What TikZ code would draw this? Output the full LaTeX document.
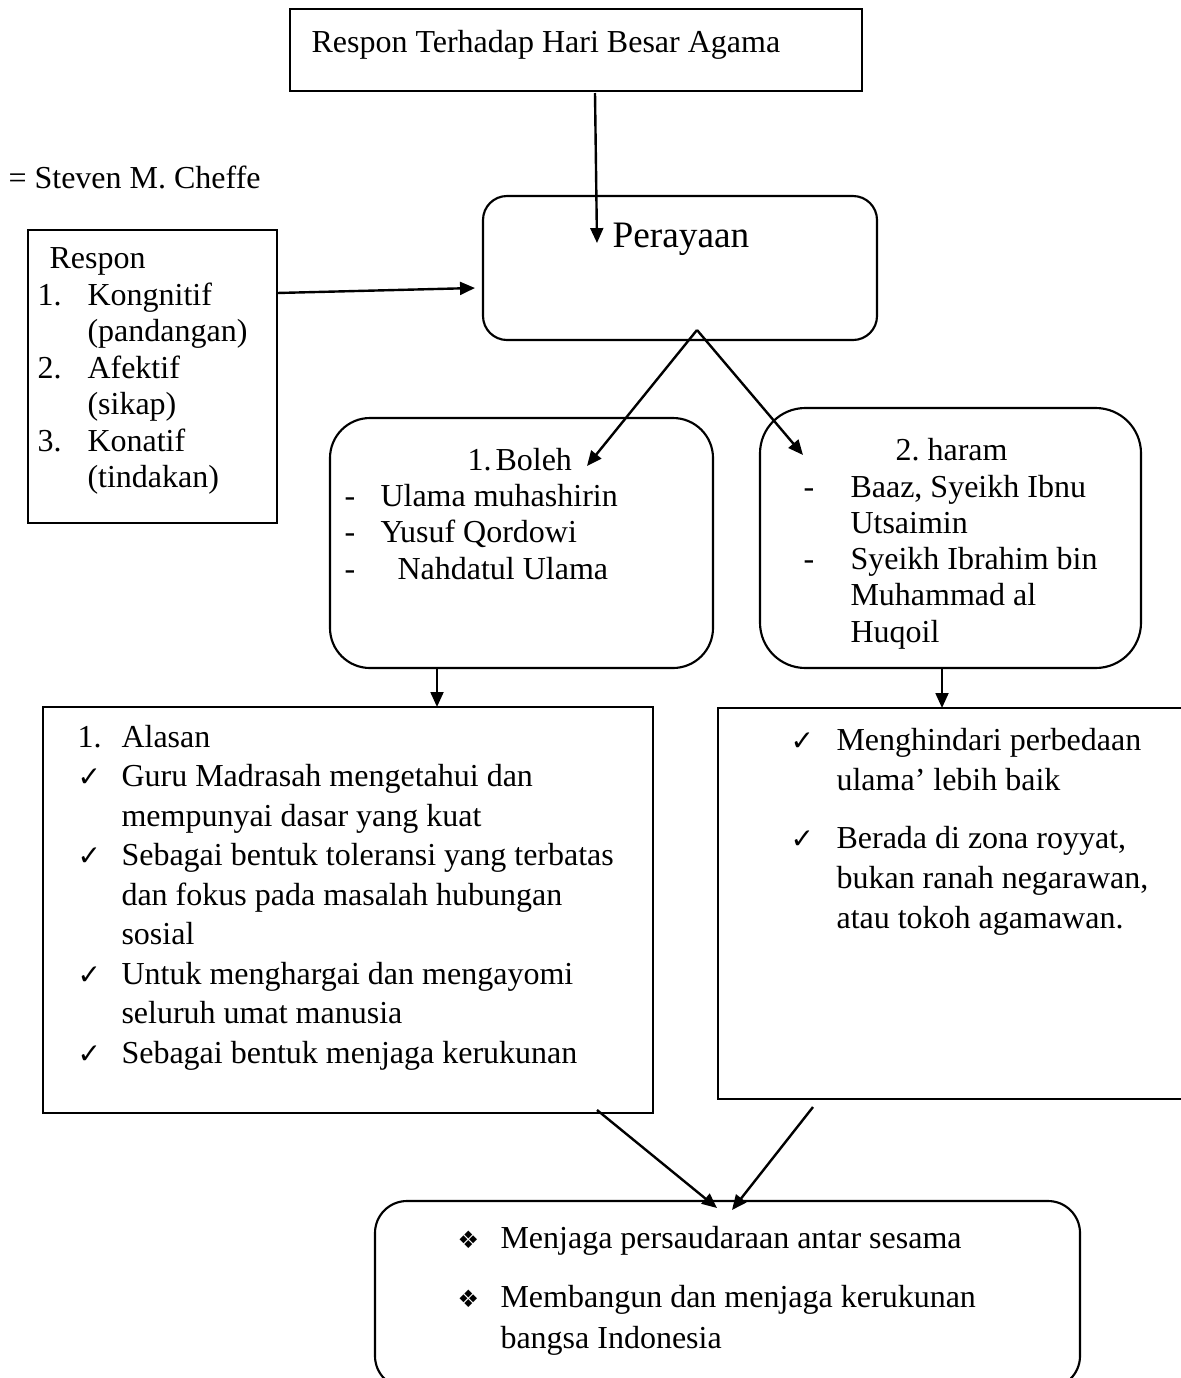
\documentclass[tikz,border=0pt]{standalone}
\usepackage{fontspec}
\setmainfont{Liberation Serif}
\newfontfamily\symfont{DejaVu Sans}
\usetikzlibrary{arrows.meta,fit}
\newlength\px \setlength\px{0.375pt}
\newcommand\Lines[2]{\vtop{\baselineskip=#1\lineskiplimit=-\maxdimen\halign{##\hfil\cr#2\crcr}}}
\newcommand\ck{{\symfont\fontsize{10.5pt}{10.5pt}\selectfont ✓}}
\newcommand\dia{{\symfont\fontsize{9pt}{9pt}\selectfont ❖}}
\newcommand\lab[2]{\makebox[#1\px][l]{#2}}
\begin{document}
\begin{tikzpicture}[x=0.375pt,y=-0.375pt,
  box/.style={draw,line width=0.8pt,inner sep=0pt,outer sep=0pt},
  rbox/.style={box,rounded corners=#1},
  rbox/.default=10pt,
  txt/.style={inner sep=0pt,anchor=base west,font=\fontsize{12pt}{13.875pt}\selectfont},
  arr/.style={line width=0.9pt,-{Triangle[length=5.6pt,width=4.8pt]}}]
\useasboundingbox (0,0) rectangle (1181,1378);
\clip (0,0) rectangle (1181,1378);

% boxes
\node[box,fit={(290,9)(862,91)}] (title) {};
\node[box,fit={(28,230)(277,523)}] (respon) {};
\node[rbox=9pt,fit={(483,196)(877,340)}] (perayaan) {};
\node[rbox=15pt,fit={(330,418)(713,668)}] (boleh) {};
\node[rbox=17pt,fit={(760,408)(1141,668)}] (haram) {};
\node[box,fit={(43,707)(653,1113)}] (alasan) {};
\node[box,fit={(718,708)(1195,1099)}] (alasankanan) {};
\node[rbox=12pt,fit={(375,1201)(1080,1388)}] (hasil) {};

% texts
\node[txt] (titletext) at (311,52) {Respon Terhadap Hari Besar Agama};
\node[txt] (author) at (8,188) {= Steven M. Cheffe};
\node[txt] (respontext) at (49,268) {Respon};
\node[txt] (responlist) at (37,305) {\Lines{36.5\px}{\lab{50}{1.}Kongnitif\cr
  \lab{50}{}(pandangan)\cr
  \lab{50}{2.}Afektif\cr
  \lab{50}{}(sikap)\cr
  \lab{50}{3.}Konatif\cr
  \lab{50}{}(tindakan)\cr}};
\node[txt,font=\fontsize{14pt}{16pt}\selectfont] (perayaantext) at (612,247) {Perayaan};
\node[txt] (bolehhead) at (467,470) {1.\hspace{4\px}Boleh};
\node[txt] (bolehlist) at (344,506) {\Lines{36.5\px}{\lab{36}{-}Ulama muhashirin\cr
  \lab{36}{-}Yusuf Qordowi\cr
  \lab{53}{-}Nahdatul Ulama\cr}};
\node[txt] (haramhead) at (895,460) {2.\ haram};
\node[txt] (haramlist) at (803,497) {\Lines{36.3\px}{\lab{47}{-}Baaz, Syeikh Ibnu\cr
  \lab{47}{}Utsaimin\cr
  \lab{47}{-}Syeikh Ibrahim bin\cr
  \lab{47}{}Muhammad al\cr
  \lab{47}{}Huqoil\cr}};
\node[txt] (alasanlist) at (77,747) {\Lines{39.5\px}{\lab{44}{1.}Alasan\cr
  \lab{44}{\ck}Guru Madrasah mengetahui dan\cr
  \lab{44}{}mempunyai dasar yang kuat\cr
  \lab{44}{\ck}Sebagai bentuk toleransi yang terbatas\cr
  \lab{44}{}dan fokus pada masalah hubungan\cr
  \lab{44}{}sosial\cr
  \lab{44}{\ck}Untuk menghargai dan mengayomi\cr
  \lab{44}{}seluruh umat manusia\cr
  \lab{44}{\ck}Sebagai bentuk menjaga kerukunan\cr}};
\node[txt] (kananlist) at (790,750) {\Lines{40\px}{\lab{46}{\ck}Menghindari perbedaan\cr
  \lab{46}{}ulama’ lebih baik\cr
  \noalign{\vskip18\px}
  \lab{46}{\ck}Berada di zona royyat,\cr
  \lab{46}{}bukan ranah negarawan,\cr
  \lab{46}{}atau tokoh agamawan.\cr}};
\node[txt] (hasillist) at (457,1248) {\Lines{41\px}{\lab{43}{\dia}Menjaga persaudaraan antar sesama\cr
  \noalign{\vskip18\px}
  \lab{43}{\dia}Membangun dan menjaga kerukunan\cr
  \lab{43}{}bangsa Indonesia\cr}};

% connector ends
\coordinate (a1s) at (595,93);
\coordinate (a1e) at (597,243);
\coordinate (r293) at (0,293);
\coordinate (a2e) at (475,288);
\coordinate (split) at (697,330);
\coordinate (bolehtip) at (587,466);
\coordinate (haramtip) at (803,455);
\coordinate (c437) at (437,0);
\coordinate (c942) at (942,0);
\coordinate (b1s) at (597,1110);
\coordinate (b1e) at (717,1208);
\coordinate (b2s) at (813,1107);
\coordinate (b2e) at (732,1210);

% connectors
\draw[arr] (a1s) -- (a1e);
\draw[arr] (respon.east |- r293) -- (a2e);
\draw[arr] (split) -- (bolehtip);
\draw[arr] (split) -- (haramtip);
\draw[arr] (boleh.south -| c437) -- (alasan.north -| c437);
\draw[arr] (haram.south -| c942) -- (alasankanan.north -| c942);
\draw[arr] (b1s) -- (b1e);
\draw[arr] (b2s) -- (b2e);
\end{tikzpicture}
\end{document}
